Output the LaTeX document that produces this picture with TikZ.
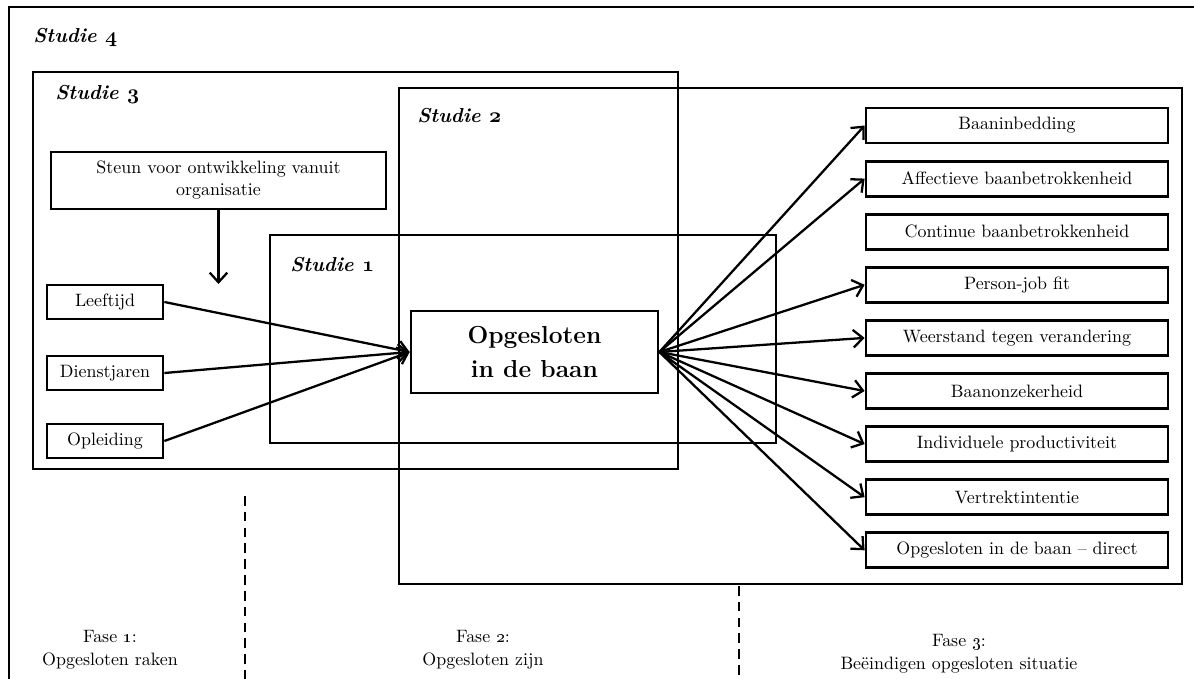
\documentclass[tikz,border=0pt]{standalone}
\usetikzlibrary{arrows.meta}
\newcommand\bosn[1]{{\usefont{OML}{cmm}{b}{it}#1}}
\begin{document}
\begin{tikzpicture}[x=0.02cm,y=-0.02cm,
  frame/.style={line width=1.3pt},
  box/.style={draw, line width=1.6pt, inner sep=0pt, align=center, font=\fontsize{10.2}{12.5}\selectfont},
  rbox/.style={box, minimum width=6.04cm, minimum height=0.70cm},
  lbox/.style={box, minimum width=2.32cm, minimum height=0.68cm},
  arr/.style={line width=1.3pt, -{Straight Barb[length=5.5pt,width=10pt,line width=1.3pt]}},
  studielbl/.style={font=\fontsize{11.5}{13}\selectfont\bfseries\itshape, anchor=base west, inner sep=0pt},
  faselbl/.style={align=center, inner sep=0pt, font=\fontsize{10.2}{13}\selectfont},
  dashline/.style={line width=1.4pt, dash pattern=on 5.5pt off 3.5pt}
]
\useasboundingbox (0,0) rectangle (1194,679);

% study frames
\draw[frame] (9,679) -- (9,7) -- (1194,7);
\draw[frame] (33,72) rectangle (678,469);
\draw[frame] (399,88) rectangle (1182,584);
\draw[frame] (270,235) rectangle (776,443);

\node[studielbl] (s4) at (33,43) {Studie \bosn{4}};
\node[studielbl] (s3) at (55,100) {Studie \bosn{3}};
\node[studielbl] (s2) at (417,123) {Studie \bosn{2}};
\node[studielbl] (s1) at (290,271) {Studie \bosn{1}};

% left side
\node[box, minimum width=6.7cm, minimum height=1.14cm] (steun) at (218.5,180.5) {Steun voor ontwikkeling vanuit\\organisatie};
\coordinate (steunend) at (218.5,284);
\draw[arr] (steun.south) -- (steunend);

\node[lbox] (leef) at (105,302) {Leeftijd};
\node[lbox] (dienst) at (105,373) {Dienstjaren};
\node[lbox] (opl) at (105,441) {Opleiding};

% central
\node[box, minimum width=4.94cm, minimum height=1.64cm, font=\fontsize{14}{19}\selectfont\bfseries] (opg) at (534.5,352) {Opgesloten\\in de baan};

\draw[arr] (leef.east) -- (opg.west);
\draw[arr] (dienst.east) -- (opg.west);
\draw[arr] (opl.east) -- (opg.west);

% right side
\node[rbox] (r1) at (1017,125.5) {Baaninbedding};
\node[rbox] (r2) at (1017,178.6) {Affectieve baanbetrokkenheid};
\node[rbox] (r3) at (1017,231.7) {Continue baanbetrokkenheid};
\node[rbox] (r4) at (1017,284.8) {Person-job fit};
\node[rbox] (r5) at (1017,337.9) {Weerstand tegen verandering};
\node[rbox] (r6) at (1017,391) {Baanonzekerheid};
\node[rbox] (r7) at (1017,444.1) {Individuele productiviteit};
\node[rbox] (r8) at (1017,497.2) {Vertrektintentie};
\node[rbox] (r9) at (1017,550.3) {Opgesloten in de baan -- direct};

\foreach \r in {r1,r2,r4,r5,r6,r7,r8,r9}
  \draw[arr] (opg.east) -- (\r.west);

% phases
\coordinate (d1a) at (245,496);
\coordinate (d1b) at (245,679);
\coordinate (d2a) at (739,586);
\coordinate (d2b) at (739,679);
\draw[dashline] (d1a) -- (d1b);
\draw[dashline] (d2a) -- (d2b);

\node[faselbl] (f1) at (110,650) {Fase \oldstylenums{1}:\\Opgesloten raken};
\node[faselbl] (f2) at (483,650) {Fase \oldstylenums{2}:\\Opgesloten zijn};
\node[faselbl] (f3) at (959,654) {Fase \oldstylenums{3}:\\Beëindigen opgesloten situatie};
\end{tikzpicture}
\end{document}
